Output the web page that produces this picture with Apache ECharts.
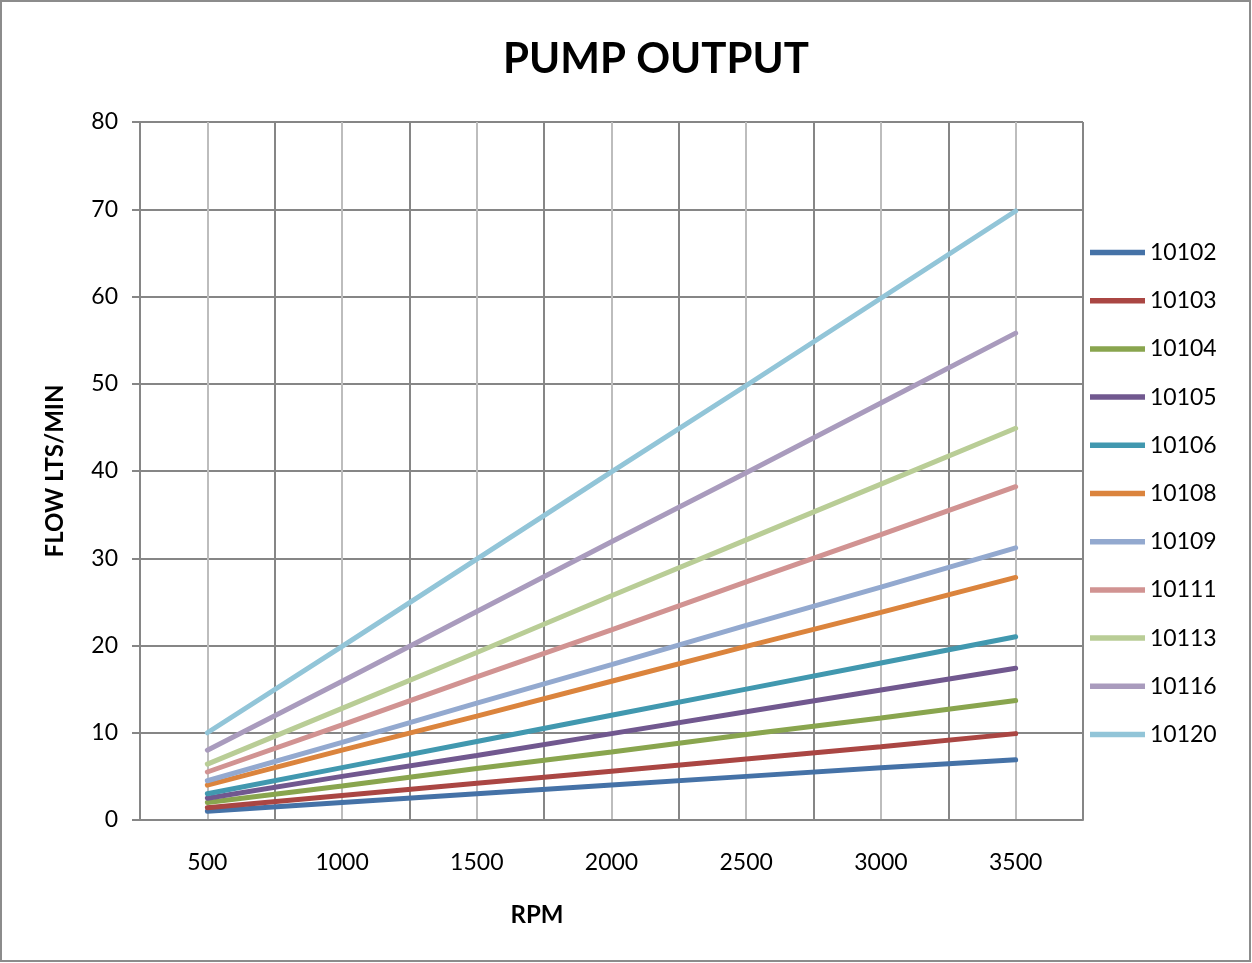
<!DOCTYPE html>
<html>
<head>
<meta charset="utf-8">
<script src="https://cdn.jsdelivr.net/npm/echarts@6/dist/echarts.min.js"></script>
<style>
html,body{margin:0;padding:0;background:#fff;}
#c{width:1252px;height:963px;}
</style>
</head>
<body>
<div id="c"></div>
<script>
const rpm = [500, 1000, 1500, 2000, 2500, 3000, 3500];
const s10102 = [1.0, 2.0, 3.0, 4.0, 5.0, 6.0, 6.9];
const s10103 = [1.4, 2.8, 4.2, 5.6, 7.0, 8.4, 9.9];
const s10104 = [2.0, 3.9, 5.9, 7.8, 9.8, 11.7, 13.7];
const s10105 = [2.5, 5.0, 7.4, 9.9, 12.4, 14.9, 17.4];
const s10106 = [3.0, 6.0, 9.0, 12.0, 15.0, 18.0, 21.0];
const s10108 = [4.0, 8.0, 11.9, 15.9, 19.9, 23.8, 27.8];
const s10109 = [4.5, 8.9, 13.4, 17.8, 22.3, 26.7, 31.2];
const s10111 = [5.5, 10.9, 16.4, 21.8, 27.3, 32.7, 38.2];
const s10113 = [6.4, 12.8, 19.2, 25.7, 32.1, 38.5, 44.9];
const s10116 = [8.0, 15.9, 23.9, 31.9, 39.8, 47.8, 55.8];
const s10120 = [10.0, 19.9, 29.9, 39.9, 49.8, 59.8, 69.8];
const seriesNames = ['10102','10103','10104','10105','10106','10108','10109','10111','10113','10116','10120'];
const seriesValues = [s10102,s10103,s10104,s10105,s10106,s10108,s10109,s10111,s10113,s10116,s10120];
const yTicks = [0,10,20,30,40,50,60,70,80];
const colors = ['#4572A7','#AA4643','#89A54E','#71588F','#4198AF','#DB843D','#93A9CF','#D19392','#B9CD96','#A99BBD','#92C5D8'];

const FONT = 'Lato, "Open Sans", sans-serif';
const chart = echarts.init(document.getElementById('c'));
chart.setOption({
  animation: false,
  backgroundColor: '#fff',
  color: colors,
  title: {
    text: 'PUMP OUTPUT',
    left: 651, top: 33, textAlign: 'center',
    textStyle: {fontFamily: FONT, fontWeight: 'bold', fontSize: 42, color: '#000'}
  },
  grid: {left: 140, right: 169, top: 122, bottom: 143},
  legend: {
    orient: 'vertical',
    left: 1090, top: 241, padding: 0,
    itemWidth: 55, itemHeight: 14, itemGap: 25.2,
    data: seriesNames,
    textStyle: {fontFamily: FONT, fontSize: 23, color: '#000'},
    icon: 'path://M0,0 L100,0 L100,10 L0,10 Z'
  },
  graphic: [
    {type: 'rect', shape: {x: 1, y: 1, width: 1249, height: 960}, style: {fill: 'none', stroke: '#8c8c8c', lineWidth: 2}, silent: true},
    {type: 'text', x: 537, y: 915, style: {text: 'RPM', fontFamily: FONT, fontWeight: 'bold', fontSize: 24, fill: '#000', textAlign: 'center', textVerticalAlign: 'middle'}},
    {type: 'text', x: 55, y: 471, rotation: Math.PI/2, style: {text: 'FLOW LTS/MIN', fontFamily: FONT, fontWeight: 'bold', fontSize: 24, fill: '#000', textAlign: 'center', textVerticalAlign: 'middle'}}
  ],
  xAxis: {
    type: 'value', min: 250, max: 3750, interval: 250,
    axisLine: {show: true, lineStyle: {color: '#868686', width: 2}},
    axisTick: {show: false},
    axisLabel: {
      margin: 31, fontFamily: FONT, fontSize: 23, color: '#000',
      formatter: v => (rpm.indexOf(v) >= 0 ? String(v) : '')
    },
    splitLine: {show: true, lineStyle: {color: ['#868686', '#bdbdbd'], width: 2}}
  },
  yAxis: {
    type: 'value', min: yTicks[0], max: yTicks[yTicks.length-1], interval: 10,
    axisLine: {show: true, lineStyle: {color: '#868686', width: 2}},
    axisTick: {show: true, inside: false, length: 8, lineStyle: {color: '#868686', width: 2}},
    axisLabel: {margin: 22, fontFamily: FONT, fontSize: 23, color: '#000'},
    splitLine: {show: true, lineStyle: {color: '#868686', width: 2}}
  },
  series: seriesNames.map((n, i) => ({
    name: n, type: 'line', symbol: 'none', showSymbol: false,
    data: rpm.map((r, j) => [r, seriesValues[i][j]]),
    lineStyle: {width: 5, cap: 'round', color: colors[i]},
    itemStyle: {color: colors[i]},
    z: 3 + i
  }))
});
</script>
</body>
</html>
